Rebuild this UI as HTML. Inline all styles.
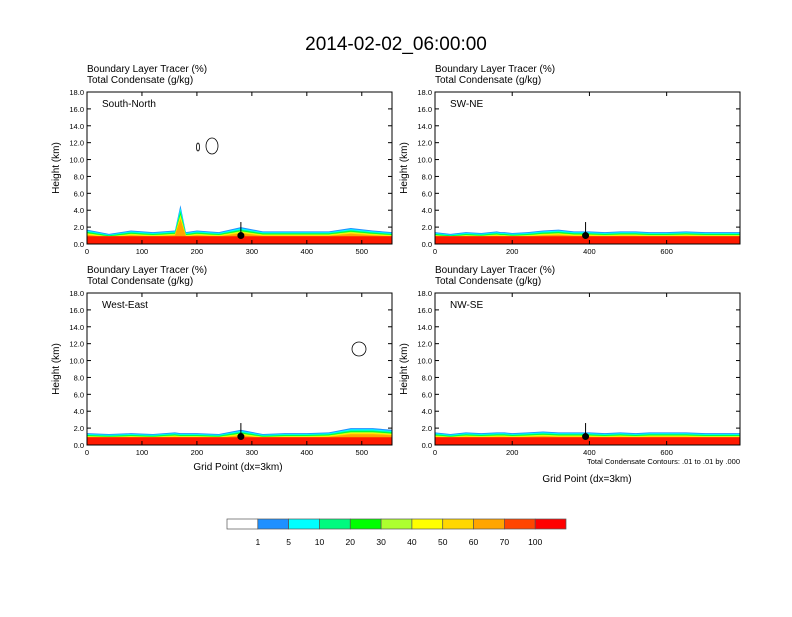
<!DOCTYPE html>
<html><head><meta charset="utf-8">
<style>
body{margin:0;background:#fff;}
svg text{font-family:"Liberation Sans",sans-serif;fill:#000;}
</style></head>
<body>
<svg id="c" width="792" height="612" xmlns="http://www.w3.org/2000/svg">
<text x="396" y="50" font-size="19" text-anchor="middle">2014-02-02_06:00:00</text>
</svg>
<script>
const panelNames=["South-North","SW-NE","West-East","NW-SE"];
const panelXMax=[555,790,555,790];
const panelXTicks=[[0,100,200,300,400,500],[0,200,400,600],[0,100,200,300,400,500],[0,200,400,600]];
const yTicks=[0,2,4,6,8,10,12,14,16,18];
const gridX=[0,40,80,120,160,170,180,200,240,280,320,360,400,440,480,520,555,600,650,700,790];
const blTop=[
 [1.7,1.2,1.6,1.4,1.6,4.6,1.4,1.6,1.4,2.0,1.5,1.5,1.5,1.5,1.9,1.6,1.4,1.4,1.4,1.4,1.4],
 [1.4,1.2,1.4,1.3,1.5,1.4,1.4,1.3,1.4,1.6,1.7,1.5,1.5,1.4,1.5,1.5,1.4,1.4,1.5,1.4,1.4],
 [1.4,1.3,1.4,1.3,1.5,1.4,1.4,1.4,1.3,1.8,1.3,1.4,1.4,1.5,2.0,2.0,1.8,1.8,1.8,1.8,1.8],
 [1.5,1.3,1.5,1.4,1.5,1.5,1.5,1.4,1.5,1.6,1.5,1.5,1.5,1.4,1.5,1.4,1.5,1.5,1.5,1.4,1.4]];
const bandFrac=[1.0,0.93,0.86,0.8,0.76,0.72,0.68,0.64];
const bandColors=["#1e90ff","#00ffff","#00fa7f","#00ff00","#adff2f","#ffff00","#ffd700","#ffa500"];
const markerX=[280,390,280,390];
const cbLabels=["1","5","10","20","30","40","50","60","70","100"];
const cbColors=["#ffffff","#1e90ff","#00ffff","#00fa7f","#00ff00","#adff2f","#ffff00","#ffd700","#ffa500","#ff4500","#ff0000"];

const svg=document.getElementById('c');
const NS="http://www.w3.org/2000/svg";
function mk(t,a,p){const e=document.createElementNS(NS,t);for(const k in a)e.setAttribute(k,a[k]);(p||svg).appendChild(e);return e;}
const boxes=[[87,92],[435,92],[87,293],[435,293]];
const W=305,H=152;
boxes.forEach((b,i)=>{
 const [x0,y0]=b;
 const g=mk('g',{});
 
 
 const sx=v=>x0+v/panelXMax[i]*W, sy=v=>y0+H-v/18*H;
 let t=mk('text',{x:x0,y:y0-20,'font-size':10,'xml:space':'preserve'},g);t.textContent="Boundary Layer Tracer    (%)";
 
 t=mk('text',{x:x0,y:y0-9,'font-size':10,'xml:space':'preserve'},g);t.textContent="Total Condensate    (g/kg)";
 
 bandFrac.forEach((f,k)=>{
  let pts=[];gridX.forEach((gx,j)=>{if(gx<=panelXMax[i])pts.push(sx(gx)+','+sy(blTop[i][j]*f));});
  pts.push(sx(panelXMax[i])+','+sy(0));pts.push(sx(0)+','+sy(0));
  const p=mk('polygon',{points:pts.join(' '),fill:bandColors[k]},g);
  
 });
 let r=mk('rect',{x:x0,y:sy(0.95),width:W,height:sy(0)-sy(0.95),fill:'#ff4500'},g);
 
 r=mk('rect',{x:x0,y:sy(0.85),width:W,height:sy(0)-sy(0.85),fill:'#ff1a00'},g);
 
 const mx=sx(markerX[i]);
 let l=mk('line',{x1:mx,x2:mx,y1:sy(1),y2:sy(2.6),stroke:'#000'},g);
 
 let c=mk('circle',{cx:mx,cy:sy(1),r:3.5,fill:'#000'},g);
 
 r=mk('rect',{x:x0,y:y0,width:W,height:H,fill:'none',stroke:'#000','stroke-width':1},g);
 
 yTicks.forEach(v=>{
  mk('line',{x1:x0,x2:x0+4,y1:sy(v),y2:sy(v),stroke:'#000'},g);
  mk('line',{x1:x0+W,x2:x0+W-4,y1:sy(v),y2:sy(v),stroke:'#000'},g);
  const tt=mk('text',{x:x0-3,y:sy(v)+3,'font-size':7.5,'text-anchor':'end'},g);tt.textContent=v.toFixed(1);
  
 });
 panelXTicks[i].forEach(v=>{
  mk('line',{x1:sx(v),x2:sx(v),y1:y0+H,y2:y0+H-4,stroke:'#000'},g);
  mk('line',{x1:sx(v),x2:sx(v),y1:y0,y2:y0+4,stroke:'#000'},g);
  const tt=mk('text',{x:sx(v),y:y0+H+10,'font-size':7.5,'text-anchor':'middle'},g);tt.textContent=v;
  
 });
 t=mk('text',{x:x0+15,y:y0+15,'font-size':10},g);t.textContent=panelNames[i];
 
 t=mk('text',{x:x0-28,y:y0+H/2,'font-size':10,'text-anchor':'middle',transform:`rotate(-90 ${x0-28} ${y0+H/2})`},g);t.textContent="Height (km)";
 
});
[[198,147,1.5,4],[212,146,6,8]].forEach(e=>{const el=mk('ellipse',{cx:e[0],cy:e[1],rx:e[2],ry:e[3],fill:'none',stroke:'#000','stroke-width':0.8});
 });
let el=mk('ellipse',{cx:359,cy:349,rx:7,ry:7,fill:'none',stroke:'#000','stroke-width':0.8});

let t=mk('text',{x:238,y:470,'font-size':10,'text-anchor':'middle'});t.textContent="Grid Point (dx=3km)";

t=mk('text',{x:587,y:482,'font-size':10,'text-anchor':'middle'});t.textContent="Grid Point (dx=3km)";

t=mk('text',{x:740,y:464,'font-size':7.5,'text-anchor':'end'});t.textContent="Total Condensate Contours: .01 to .01 by .000";

const cw=339/cbColors.length;
cbColors.forEach((col,k)=>{
 const r=mk('rect',{x:227+k*cw,y:519,width:cw,height:10,fill:col,stroke:'#555','stroke-width':0.7});
 
});
cbLabels.forEach((lb,k)=>{
 const tt=mk('text',{x:227+(k+1)*cw,y:545,'font-size':8.5,'text-anchor':'middle'});tt.textContent=lb;
 
});
</script>
</body></html>
